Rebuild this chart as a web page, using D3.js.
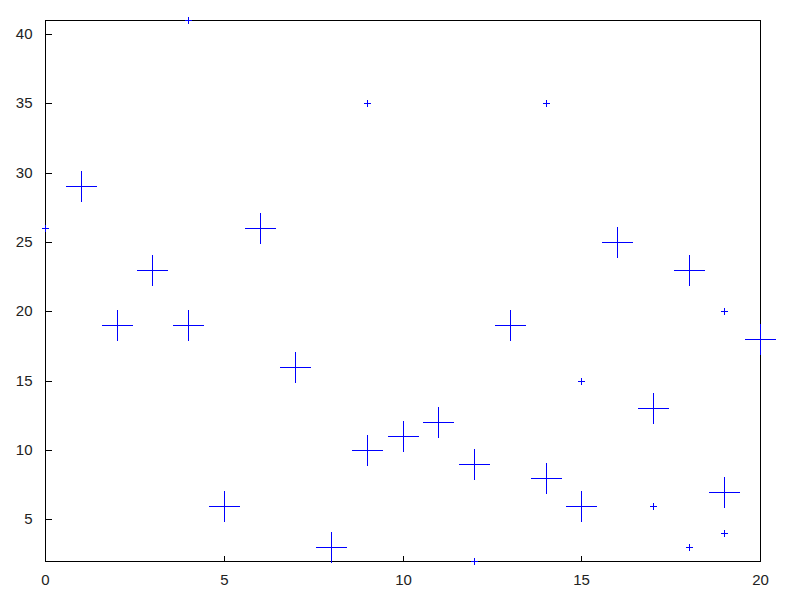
<!DOCTYPE html>
<html>
<head>
<meta charset="utf-8">
<script src="https://cdn.jsdelivr.net/npm/d3@7"></script>
<style>
  html, body { margin: 0; padding: 0; background: #fff; }
  svg { display: block; }
</style>
</head>
<body>
<svg id="chart" width="800" height="600"></svg>
<script>
// ---- data ----
const largeX = [1, 2, 3, 4, 5, 6, 7, 8, 9, 10, 11, 12, 13, 14, 15, 16, 17, 18, 19, 20];
const largeY = [29, 19, 23, 19, 6, 26, 16, 3, 10, 11, 12, 9, 19, 8, 6, 25, 13, 23, 7, 18];
const smallX = [0, 4, 9, 12, 14, 15, 17, 18, 19, 19];
const smallY = [26, 41, 35, 2, 35, 15, 6, 3, 20, 4];
const xTicks = [0, 5, 10, 15, 20];
const yTicks = [5, 10, 15, 20, 25, 30, 35, 40];
const xDomain = [0, 20];
const yDomain = [2, 41];

// ---- layout ----
const plotL = 45.5, plotR = 760.5, plotT = 20.5, plotB = 561.5;
const svg = d3.select("#chart");
const x = d3.scaleLinear().domain(xDomain).range([plotL, plotR]);
const y = d3.scaleLinear().domain(yDomain).range([plotB, plotT]);
const snap = v => Math.floor(v) + 0.5;
const font = "'Liberation Sans', Arial, sans-serif";

// axes (inward ticks, bottom & left only)
const xAxis = d3.axisBottom(x).tickValues(xTicks).tickSizeInner(-6).tickSizeOuter(0).tickPadding(13).tickFormat(d3.format("d"));
const yAxis = d3.axisLeft(y).tickValues(yTicks).tickSizeInner(-6).tickSizeOuter(0).tickPadding(13).tickFormat(d3.format("d"));

const gx = svg.append("g").attr("transform", `translate(0,${plotB})`).call(xAxis);
const gy = svg.append("g").attr("transform", `translate(${plotL},0)`).call(yAxis);
[gx, gy].forEach(g => {
  g.select(".domain").remove();
  g.selectAll(".tick line").attr("stroke", "#000").attr("shape-rendering", "crispEdges");
  g.selectAll(".tick text").attr("fill", "#222").style("font-family", font).style("font-size", "15px");
});
gy.selectAll(".tick").attr("transform", d => `translate(0,${snap(y(d))})`);
gx.selectAll(".tick").attr("transform", d => `translate(${snap(x(d))},0)`);

// border
svg.append("rect")
  .attr("x", plotL).attr("y", plotT)
  .attr("width", plotR - plotL).attr("height", plotB - plotT)
  .attr("fill", "none").attr("stroke", "#000").attr("stroke-width", 1)
  .attr("shape-rendering", "crispEdges");

// crosses
function cross(cx, cy, h) {
  return `M${cx - h - 0.5},${cy}H${cx + h + 0.5}M${cx},${cy - h - 0.5}V${cy + h + 0.5}`;
}
const pts = svg.append("g").attr("fill", "none").attr("stroke", "#0000ff").attr("stroke-width", 1).attr("shape-rendering", "crispEdges");
pts.selectAll("path.large").data(largeX.map((d, i) => [d, largeY[i]])).join("path")
  .attr("class", "large")
  .attr("d", d => cross(snap(x(d[0])), snap(y(d[1])), 15));
pts.selectAll("path.small").data(smallX.map((d, i) => [d, smallY[i]])).join("path")
  .attr("class", "small")
  .attr("d", d => cross(snap(x(d[0])), snap(y(d[1])), 3));
</script>
</body>
</html>
